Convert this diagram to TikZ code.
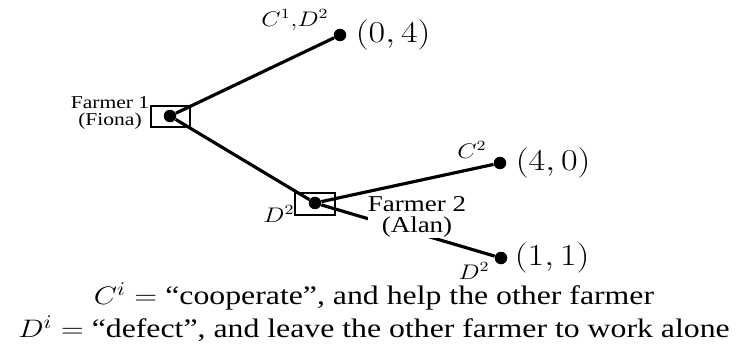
\documentclass[tikz,border=0pt]{standalone}
\usepackage{fontspec}
\setmainfont{Liberation Serif}
\usepackage{graphicx}
\usepackage{tikz}
\usetikzlibrary{positioning}
\newcommand{\stretchx}[1]{\scalebox{1.19}[1]{#1}}
\tikzset{
  branch/.style={line width=1.8pt},
  gamenode/.style={circle, fill=black, inner sep=0pt, minimum size=0.25cm},
  infoset/.style={draw, line width=1.1pt, minimum width=0.79cm,
                  minimum height=0.43cm, inner sep=0pt},
  payoff/.style={inner sep=0pt, font=\fontsize{16.5}{19}\selectfont},
  movelabel/.style={inner sep=0pt, font=\fontsize{11.5}{13}\selectfont},
  player/.style={inner sep=0pt, fill=white},
  legend/.style={inner sep=0pt, font=\fontsize{15.2}{18.8}\selectfont}
}

\begin{document}
\begin{tikzpicture}[x=0.02cm, y=-0.02cm]
  \useasboundingbox (0,0) rectangle (737,352);
  % information sets
  \node[infoset] (box1) at (170.5,116.5) {};
  \node[infoset] (box2) at (315,204) {};
  % decision and terminal nodes
  \node[gamenode] (f1) at (170,116) {};
  \node[gamenode] (f2) at (315,203) {};
  \node[gamenode] (t1) at (340,35) {};
  \node[gamenode] (t2) at (500,163) {};
  \node[gamenode] (t3) at (501,258) {};

  \draw[branch] (f1) -- (t1);
  \draw[branch] (f1) -- (f2);
  \draw[branch] (f2) -- (t2);
  \draw[branch] (f2) -- (t3);

  % payoffs
  \node[payoff, right=0.18cm of t1] (p1) {\stretchx{$(0,4)$}};
  \node[payoff, right=0.18cm of t2] (p2) {\stretchx{$(4,0)$}};
  \node[payoff, right=0.14cm of t3] (p3) {\stretchx{$(1,1)$}};

  % moves
  \node[movelabel] (m1) at (295,20) {\stretchx{$C^1{,}D^2$}};
  \node[movelabel] (m2) at (279,214) {\stretchx{$D^2$}};
  \node[movelabel] (m3) at (472,150) {\stretchx{$C^2$}};
  \node[movelabel] (m4) at (474,271) {\stretchx{$D^2$}};

  % players
  \node[player, font=\fontsize{10.3}{9.7}\selectfont] (pl1) at (110,113.5)
    {\stretchx{\begin{tabular}{@{}c@{}}Farmer 1\\(Fiona)\end{tabular}}};
  \node[player, font=\fontsize{12.9}{10.4}\selectfont] (pl2) at (417,217)
    {\stretchx{\begin{tabular}{@{}c@{}}Farmer 2\\(Alan)\end{tabular}}};

  % key
  \node[legend] (key) at (374,314.5)
    {\stretchx{\begin{tabular}{@{}c@{}}$C^i=$ ``cooperate'', and help the other farmer\\
     $D^i=$ ``defect'', and leave the other farmer to work alone\end{tabular}}};
\end{tikzpicture}
\end{document}
